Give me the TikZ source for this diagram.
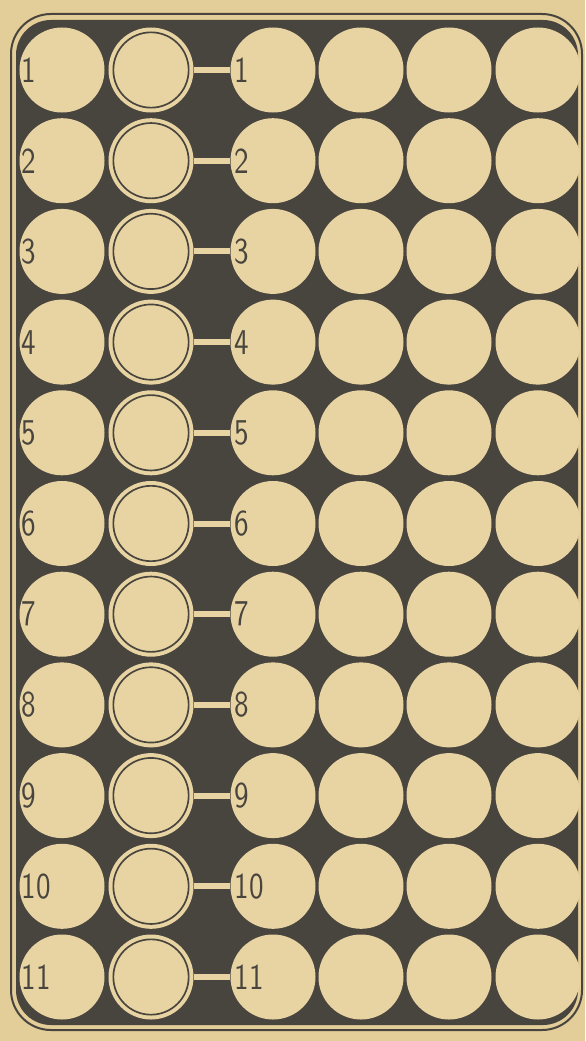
\documentclass[tikz,border=0pt]{standalone}
\usepackage{fontspec}
\usepackage{tikz}
\usetikzlibrary{positioning}

\newfontfamily\numfont{lmsans10-regular.otf}[FakeStretch=0.8]
\definecolor{paper}{RGB}{227,205,152}
\definecolor{disc}{RGB}{232,212,162}
\definecolor{board}{RGB}{72,68,62}

\begin{document}
\begin{tikzpicture}[
    x=0.03cm, y=-0.03cm,
    hole/.style={
        circle, fill=disc, minimum size=2.55cm, inner sep=0pt
    },
    rim/.style={board, line width=0.05cm},
    bar/.style={disc, line width=0.18cm},
    num/.style={font=\numfont\fontsize{31}{31}\selectfont, text=board, inner sep=0pt}
]

% Paper and board
\useasboundingbox (0,0) rectangle (585,1041);
\fill[paper] (0,0) rectangle (585,1041);
\draw[board, line width=0.06cm, rounded corners=1.2cm] (11,14) rectangle (582,1030);
\fill[board, rounded corners=1.05cm] (16,20) rectangle (578,1025);

% Rows of holes
\foreach \r in {1,...,11} {
    \pgfmathsetmacro\yy{70+90.7*(\r-1)}
    \node[hole] (a\r) at (62,\yy)  {};
    \node[hole] (b\r) at (151,\yy) {};
    \node[hole] (c\r) at (273,\yy) {};
    \node[hole] (d\r) at (361,\yy) {};
    \node[hole] (e\r) at (449,\yy) {};
    \node[hole] (f\r) at (538,\yy) {};
    \draw[rim] (b\r.center) circle[radius=1.13cm];
    \draw[bar] (b\r.east) -- (c\r.west);
    \node[num, right=0.06cm of a\r.west] {\r};
    \node[num, right=0.12cm of c\r.west] {\r};
}

\end{tikzpicture}
\end{document}
